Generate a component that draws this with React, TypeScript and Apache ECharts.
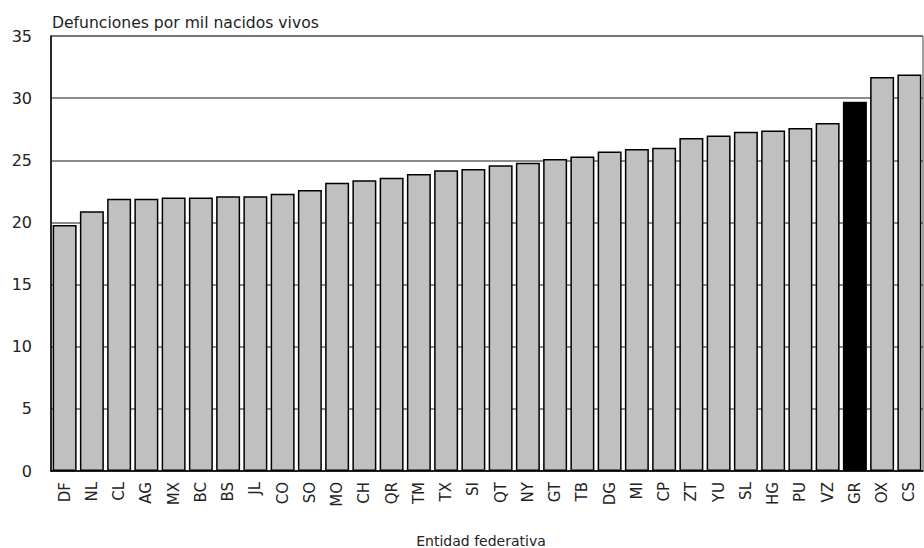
import React, { useEffect, useRef } from "react";
import * as echarts from "echarts";

const categories = ["DF","NL","CL","AG","MX","BC","BS","JL","CO","SO","MO","CH","QR","TM","TX","SI","QT","NY","GT","TB","DG","MI","CP","ZT","YU","SL","HG","PU","VZ","GR","OX","CS"];
const values = [19.8,20.9,21.9,21.9,22.0,22.0,22.1,22.1,22.3,22.6,23.2,23.4,23.6,23.9,24.2,24.3,24.6,24.8,25.1,25.3,25.7,25.9,26.0,26.8,27.0,27.3,27.4,27.6,28.0,29.7,31.7,31.9];
const highlighted = ["GR"];
const yTicks = [0, 5, 10, 15, 20, 25, 30, 35];
const yAxisTitle = "Defunciones por mil nacidos vivos";
const xAxisTitle = "Entidad federativa";

const FONT = "'DejaVu Sans', 'Noto Sans', sans-serif";

export default function App() {
  const ref = useRef<HTMLDivElement>(null);
  useEffect(() => {
    if (!ref.current) return;
    const chart = echarts.init(ref.current, null, { renderer: "svg" });
    chart.setOption({
      animation: false,
      backgroundColor: "#ffffff",
      textStyle: { fontFamily: FONT },
      grid: {
        left: 51, right: 1, top: 36, bottom: 77,
        show: true, borderColor: "#444", borderWidth: 1, backgroundColor: "transparent",
      },
      graphic: [
        { type: "text", x: 52, y: 23, style: { text: yAxisTitle, font: `15.6px ${FONT}`, fill: "#222", verticalAlign: "middle" } },
        { type: "text", x: 481, y: 541, style: { text: xAxisTitle, font: `14px ${FONT}`, fill: "#222", align: "center", verticalAlign: "middle" } },
      ],
      xAxis: {
        type: "category",
        data: categories,
        axisLine: { lineStyle: { color: "#000", width: 1.5 } },
        axisTick: { show: false },
        axisLabel: { rotate: 90, fontSize: 15, color: "#222", margin: 11, fontFamily: FONT },
      },
      yAxis: {
        type: "value",
        min: yTicks[0],
        max: yTicks[yTicks.length - 1],
        interval: 5,
        axisLine: { show: true, lineStyle: { color: "#000", width: 1.5 } },
        axisTick: { show: false },
        axisLabel: { fontSize: 16, color: "#222", margin: 19, fontFamily: FONT },
        splitLine: { lineStyle: { color: "#666", width: 1.5 } },
      },
      series: [{
        type: "bar",
        data: values.map((v, i) => ({
          value: v,
          itemStyle: { color: highlighted.includes(categories[i]) ? "#000" : "#c0c0c0" },
        })),
        barCategoryGap: "12%",
        itemStyle: { borderColor: "#000", borderWidth: 1.5 },
      }],
    });
    return () => chart.dispose();
  }, []);
  return <div ref={ref} style={{ width: 924, height: 548, position: "absolute", left: 0, top: 0 }} />;
}
